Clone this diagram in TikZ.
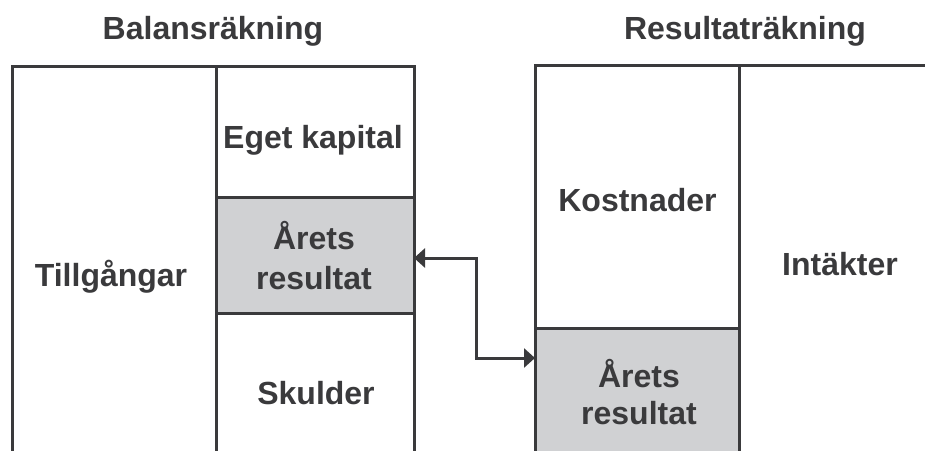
\documentclass[tikz,border=0pt]{standalone}
\usepackage{fontspec}
\setmainfont{Liberation Sans}
\usetikzlibrary{arrows.meta,positioning}
\definecolor{ink}{HTML}{3A3A3C}
\definecolor{boxgray}{HTML}{D0D1D3}
\tikzset{
  cell/.style={draw=ink,line width=3pt,inner sep=0pt,outer sep=0pt,anchor=north west},
  shaded/.style={cell,fill=boxgray},
  lbl/.style={text=ink,font=\bfseries\fontsize{32}{37}\selectfont,align=center,inner sep=0pt},
  ttl/.style={lbl},
  link/.style={draw=ink,line width=3pt,{Triangle[length=11pt,width=19pt]}-{Triangle[length=11pt,width=19pt]}}
}
\begin{document}
\begin{tikzpicture}[x=1pt,y=-1pt]
\useasboundingbox (0,0) rectangle (925,450);
% Balansräkning
\node[cell,minimum width=204pt,minimum height=420pt] (tg) at (12,66) {};
\node[cell,minimum width=198pt,minimum height=131pt] (ek) at (216,66) {};
\node[shaded,minimum width=198pt,minimum height=116pt] (ar1) at (216,197) {};
\node[cell,minimum width=198pt,minimum height=170pt] (sk) at (216,313) {};
% Resultaträkning
\node[cell,minimum width=204pt,minimum height=263pt] (ko) at (535,65) {};
\node[shaded,minimum width=204pt,minimum height=160pt] (ar2) at (535,328) {};
\coordinate (rt) at (960,65);
\draw[draw=ink,line width=3pt] (ko.north east) -- (rt);
% labels
\node[ttl] (t1) at (213,31) {Balansräkning};
\node[ttl] (t2) at (745,31) {Resultaträkning};
\node[lbl] (l1) at (313,140) {Eget kapital};
\node[lbl,font=\bfseries\fontsize{32}{40}\selectfont] (l2) at (314,256) {Årets\\resultat};
\node[lbl] (l3) at (111,277) {Tillgångar};
\node[lbl] (l4) at (316,393) {Skulder};
\node[lbl] (l5) at (637.5,200) {Kostnader};
\node[lbl] (l6) at (840,264.5) {Intäkter};
\node[lbl] (l7) at (639,392.5) {Årets\\resultat};
% connector
\coordinate (c1) at (ar1.east |- 0,258);
\coordinate (c2) at (ar2.west |- 0,358);
\draw[link] (c1) -- (476,258) |- (c2);
\end{tikzpicture}
\end{document}
